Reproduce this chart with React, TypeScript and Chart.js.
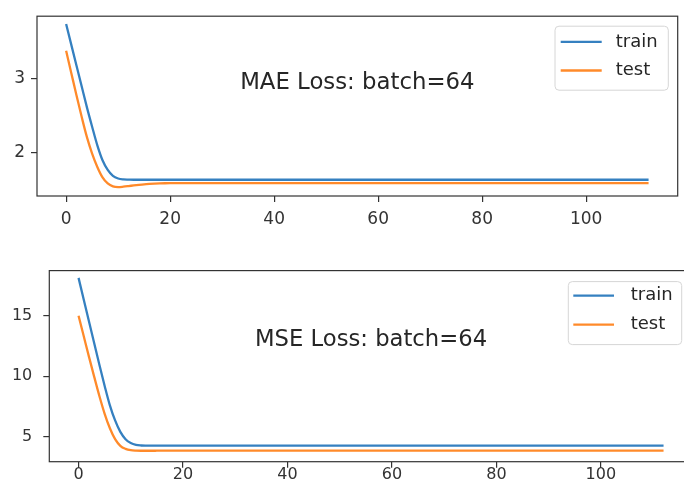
import { useEffect, useRef } from "react";
import { Chart, registerables } from "chart.js";

Chart.register(...registerables);

const epochs = Array.from({ length: 113 }, (_, i) => i);
const seriesLabels = ["train", "test"];

const maeTrain = [
  3.73, 3.45, 3.17, 2.89, 2.61, 2.35, 2.1, 1.9, 1.77, 1.69,
  1.655, 1.643, 1.64, 1.638, 1.638, 1.638, 1.638, 1.638, 1.638, 1.638,
  1.638, 1.638, 1.638, 1.638, 1.638, 1.638, 1.638, 1.638, 1.638, 1.638,
  1.638, 1.638, 1.638, 1.638, 1.638, 1.638, 1.638, 1.638, 1.638, 1.638,
  1.638, 1.638, 1.638, 1.638, 1.638, 1.638, 1.638, 1.638, 1.638, 1.638,
  1.638, 1.638, 1.638, 1.638, 1.638, 1.638, 1.638, 1.638, 1.638, 1.638,
  1.638, 1.638, 1.638, 1.638, 1.638, 1.638, 1.638, 1.638, 1.638, 1.638,
  1.638, 1.638, 1.638, 1.638, 1.638, 1.638, 1.638, 1.638, 1.638, 1.638,
  1.638, 1.638, 1.638, 1.638, 1.638, 1.638, 1.638, 1.638, 1.638, 1.638,
  1.638, 1.638, 1.638, 1.638, 1.638, 1.638, 1.638, 1.638, 1.638, 1.638,
  1.638, 1.638, 1.638, 1.638, 1.638, 1.638, 1.638, 1.638, 1.638, 1.638,
  1.638, 1.638, 1.638,
];

const maeTest = [
  3.37, 3.07, 2.77, 2.48, 2.21, 1.99, 1.81, 1.67, 1.588, 1.549,
  1.54, 1.545, 1.553, 1.562, 1.57, 1.577, 1.582, 1.586, 1.589, 1.591,
  1.592, 1.592, 1.592, 1.592, 1.592, 1.592, 1.592, 1.592, 1.592, 1.592,
  1.592, 1.592, 1.592, 1.592, 1.592, 1.592, 1.592, 1.592, 1.592, 1.592,
  1.592, 1.592, 1.592, 1.592, 1.592, 1.592, 1.592, 1.592, 1.592, 1.592,
  1.592, 1.592, 1.592, 1.592, 1.592, 1.592, 1.592, 1.592, 1.592, 1.592,
  1.592, 1.592, 1.592, 1.592, 1.592, 1.592, 1.592, 1.592, 1.592, 1.592,
  1.592, 1.592, 1.592, 1.592, 1.592, 1.592, 1.592, 1.592, 1.592, 1.592,
  1.592, 1.592, 1.592, 1.592, 1.592, 1.592, 1.592, 1.592, 1.592, 1.592,
  1.592, 1.592, 1.592, 1.592, 1.592, 1.592, 1.592, 1.592, 1.592, 1.592,
  1.592, 1.592, 1.592, 1.592, 1.592, 1.592, 1.592, 1.592, 1.592, 1.592,
  1.592, 1.592, 1.592,
];

const mseTrain = [
  18.13, 16.33, 14.53, 12.73, 10.93, 9.2, 7.6, 6.35, 5.4, 4.8,
  4.48, 4.33, 4.28, 4.265, 4.26, 4.26, 4.26, 4.26, 4.26, 4.26,
  4.26, 4.26, 4.26, 4.26, 4.26, 4.26, 4.26, 4.26, 4.26, 4.26,
  4.26, 4.26, 4.26, 4.26, 4.26, 4.26, 4.26, 4.26, 4.26, 4.26,
  4.26, 4.26, 4.26, 4.26, 4.26, 4.26, 4.26, 4.26, 4.26, 4.26,
  4.26, 4.26, 4.26, 4.26, 4.26, 4.26, 4.26, 4.26, 4.26, 4.26,
  4.26, 4.26, 4.26, 4.26, 4.26, 4.26, 4.26, 4.26, 4.26, 4.26,
  4.26, 4.26, 4.26, 4.26, 4.26, 4.26, 4.26, 4.26, 4.26, 4.26,
  4.26, 4.26, 4.26, 4.26, 4.26, 4.26, 4.26, 4.26, 4.26, 4.26,
  4.26, 4.26, 4.26, 4.26, 4.26, 4.26, 4.26, 4.26, 4.26, 4.26,
  4.26, 4.26, 4.26, 4.26, 4.26, 4.26, 4.26, 4.26, 4.26, 4.26,
  4.26, 4.26, 4.26,
];

const mseTest = [
  15.0, 13.3, 11.6, 9.95, 8.35, 6.9, 5.7, 4.8, 4.25, 4.0,
  3.89, 3.855, 3.845, 3.845, 3.845, 3.847, 3.85, 3.85, 3.85, 3.85,
  3.85, 3.85, 3.85, 3.85, 3.85, 3.85, 3.85, 3.85, 3.85, 3.85,
  3.85, 3.85, 3.85, 3.85, 3.85, 3.85, 3.85, 3.85, 3.85, 3.85,
  3.85, 3.85, 3.85, 3.85, 3.85, 3.85, 3.85, 3.85, 3.85, 3.85,
  3.85, 3.85, 3.85, 3.85, 3.85, 3.85, 3.85, 3.85, 3.85, 3.85,
  3.85, 3.85, 3.85, 3.85, 3.85, 3.85, 3.85, 3.85, 3.85, 3.85,
  3.85, 3.85, 3.85, 3.85, 3.85, 3.85, 3.85, 3.85, 3.85, 3.85,
  3.85, 3.85, 3.85, 3.85, 3.85, 3.85, 3.85, 3.85, 3.85, 3.85,
  3.85, 3.85, 3.85, 3.85, 3.85, 3.85, 3.85, 3.85, 3.85, 3.85,
  3.85, 3.85, 3.85, 3.85, 3.85, 3.85, 3.85, 3.85, 3.85, 3.85,
  3.85, 3.85, 3.85,
];

const xTicks = [0, 20, 40, 60, 80, 100];
const maeYTicks = [2, 3];
const mseYTicks = [5, 10, 15];
const maeTitle = "MAE Loss: batch=64";
const mseTitle = "MSE Loss: batch=64";

const BLUE = "#3580c0";
const ORANGE = "#ff8a2a";
const FONT = "'DejaVu Sans', sans-serif";

const decorPlugin = {
  id: "mplDecor",
  afterDraw(chart: any, _args: any, opts: any) {
    const { ctx, chartArea: a } = chart;
    ctx.save();
    // axes frame
    ctx.strokeStyle = "#333";
    ctx.lineWidth = 1.2;
    ctx.strokeRect(a.left, a.top, a.right - a.left, a.bottom - a.top);
    // text annotation
    ctx.fillStyle = "#262626";
    ctx.font = `${opts.titleSize}px ${FONT}`;
    ctx.textAlign = "center";
    ctx.textBaseline = "middle";
    ctx.fillText(
      opts.title,
      a.left + (a.right - a.left) * 0.5,
      a.top + (a.bottom - a.top) * opts.titleFrac
    );
    // legend
    const L = opts.legend;
    const bx = a.right - L.offRight;
    const by = a.top + L.offTop;
    ctx.beginPath();
    ctx.roundRect(bx, by, L.w, L.h, 4);
    ctx.fillStyle = "rgba(255,255,255,0.85)";
    ctx.fill();
    ctx.strokeStyle = "#d6d6d6";
    ctx.lineWidth = 1;
    ctx.stroke();
    ctx.font = `${L.fontSize}px ${FONT}`;
    ctx.textAlign = "left";
    ctx.textBaseline = "middle";
    chart.data.datasets.forEach((ds: any, i: number) => {
      const y = by + L.rowY[i];
      ctx.strokeStyle = ds.borderColor;
      ctx.lineWidth = 2.4;
      ctx.beginPath();
      ctx.moveTo(bx + L.lineX0, y);
      ctx.lineTo(bx + L.lineX1, y);
      ctx.stroke();
      ctx.fillStyle = "#262626";
      ctx.fillText(ds.label, bx + L.textX, y);
    });
    ctx.restore();
  },
};

function makeConfig(
  train: number[],
  test: number[],
  yMin: number,
  yMax: number,
  yTicks: number[],
  geom: any
) {
  return {
    type: "line",
    data: {
      labels: epochs,
      datasets: [
        {
          label: seriesLabels[0],
          data: train,
          borderColor: BLUE,
          borderWidth: 2.3,
          pointRadius: 0,
          cubicInterpolationMode: "monotone",
          fill: false,
        },
        {
          label: seriesLabels[1],
          data: test,
          borderColor: ORANGE,
          borderWidth: 2.3,
          pointRadius: 0,
          cubicInterpolationMode: "monotone",
          fill: false,
        },
      ],
    },
    options: {
      responsive: false,
      animation: false,
      events: [],
      layout: { padding: geom.padding },
      plugins: {
        legend: { display: false },
        title: { display: false },
        tooltip: { enabled: false },
        mplDecor: geom.decor,
      },
      scales: {
        x: {
          type: "linear",
          min: -5.6,
          max: 117.6,
          afterBuildTicks: (s: any) => {
            s.ticks = xTicks.map((v) => ({ value: v }));
          },
          afterFit: (s: any) => {
            s.height = geom.xHeight;
          },
          border: { display: false },
          grid: {
            drawOnChartArea: false,
            drawTicks: true,
            tickLength: geom.tickLength,
            color: "#333",
            lineWidth: 1.2,
          },
          ticks: {
            autoSkip: false,
            maxRotation: 0,
            padding: geom.xPad,
            color: "#333",
            font: { family: FONT, size: geom.tickSize },
          },
        },
        y: {
          type: "linear",
          min: yMin,
          max: yMax,
          afterBuildTicks: (s: any) => {
            s.ticks = yTicks.map((v) => ({ value: v }));
          },
          afterFit: (s: any) => {
            s.width = geom.yWidth;
          },
          border: { display: false },
          grid: {
            drawOnChartArea: false,
            drawTicks: true,
            tickLength: geom.tickLength,
            color: "#333",
            lineWidth: 1.2,
          },
          ticks: {
            padding: geom.yPad,
            color: "#333",
            font: { family: FONT, size: geom.tickSize },
          },
        },
      },
    },
    plugins: [decorPlugin],
  } as any;
}

export default function App() {
  const topRef = useRef<HTMLCanvasElement>(null);
  const botRef = useRef<HTMLCanvasElement>(null);

  useEffect(() => {
    const c1 = new Chart(
      topRef.current!,
      makeConfig(maeTrain, maeTest, 1.42, 3.835, maeYTicks, {
        padding: { top: 5, right: 6.3, left: 0, bottom: 0 },
        xHeight: 44,
        yWidth: 37,
        tickLength: 6,
        xPad: 7,
        yPad: 6,
        tickSize: 17,
        decor: {
          title: maeTitle,
          titleSize: 22.8,
          titleFrac: 0.372,
          legend: {
            offRight: 122.7,
            offTop: 10,
            w: 113.3,
            h: 64,
            rowY: [15.7, 44.3],
            lineX0: 5.7,
            lineX1: 46.7,
            textX: 60.7,
            fontSize: 18,
          },
        },
      })
    );
    const c2 = new Chart(
      botRef.current!,
      makeConfig(mseTrain, mseTest, 2.94, 18.73, mseYTicks, {
        padding: { top: 20, right: 7.2, left: 0, bottom: 0 },
        xHeight: 38.3,
        yWidth: 49.3,
        tickLength: 6,
        xPad: -2,
        yPad: 11,
        tickSize: 16,
        decor: {
          title: mseTitle,
          titleSize: 22.7,
          titleFrac: 0.365,
          legend: {
            offRight: 124.5,
            offTop: 11,
            w: 113.4,
            h: 63,
            rowY: [14, 43],
            lineX0: 5,
            lineX1: 45.7,
            textX: 62.4,
            fontSize: 18,
          },
        },
      })
    );
    return () => {
      c1.destroy();
      c2.destroy();
    };
  }, []);

  return (
    <div
      style={{
        position: "absolute",
        left: 0,
        top: 0,
        width: 684,
        height: 500,
        overflow: "hidden",
        background: "#fff",
      }}
    >
      <canvas
        ref={topRef}
        width={684}
        height={240}
        style={{ position: "absolute", left: 0, top: 0, width: 684, height: 240 }}
      />
      <canvas
        ref={botRef}
        width={700}
        height={250}
        style={{ position: "absolute", left: 0, top: 250, width: 700, height: 250 }}
      />
    </div>
  );
}
